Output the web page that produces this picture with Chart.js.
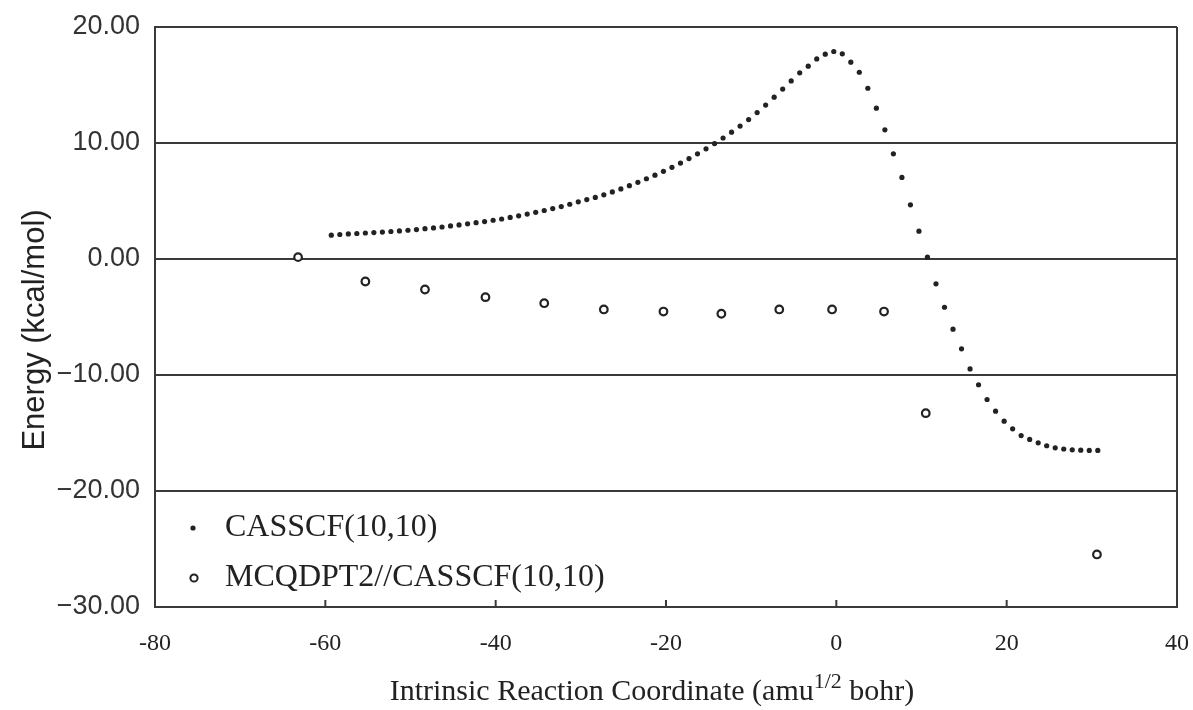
<!DOCTYPE html>
<html>
<head>
<meta charset="utf-8">
<script src="https://cdn.jsdelivr.net/npm/chart.js@4.4.1/dist/chart.umd.min.js"></script>
<style>
  body { margin: 0; background: #fff; }
</style>
</head>
<body>
<canvas id="grafico" width="1193" height="710"></canvas>
<script>
// CASSCF(10,10) IRC profile, one point per step along the path
const casscfX = [
  -59.3, -58.3, -57.3, -56.3, -55.3, -54.3, -53.3, -52.3, -51.3, -50.3,
  -49.3, -48.3, -47.3, -46.3, -45.3, -44.3, -43.3, -42.3, -41.3, -40.3,
  -39.3, -38.3, -37.3, -36.3, -35.3, -34.3, -33.3, -32.3, -31.3, -30.3,
  -29.3, -28.3, -27.3, -26.3, -25.3, -24.3, -23.3, -22.3, -21.3, -20.3,
  -19.3, -18.3, -17.3, -16.3, -15.3, -14.3, -13.3, -12.3, -11.3, -10.3,
  -9.3, -8.3, -7.3, -6.3, -5.3, -4.3, -3.3, -2.3, -1.3, -0.3,
  0.7, 1.7, 2.7, 3.7, 4.7, 5.7, 6.7, 7.7, 8.7, 9.7,
  10.7, 11.7, 12.7, 13.7, 14.7, 15.7, 16.7, 17.7, 18.7, 19.7,
  20.7, 21.7, 22.7, 23.7, 24.7, 25.7, 26.7, 27.7, 28.7, 29.7,
  30.7
];
const casscfY = [
  2.05, 2.11, 2.16, 2.20, 2.24, 2.28, 2.32, 2.37, 2.42, 2.48,
  2.54, 2.61, 2.68, 2.76, 2.85, 2.94, 3.03, 3.13, 3.23, 3.34,
  3.45, 3.58, 3.72, 3.87, 4.02, 4.18, 4.35, 4.52, 4.72, 4.93,
  5.12, 5.31, 5.53, 5.78, 6.04, 6.32, 6.61, 6.92, 7.23, 7.56,
  7.90, 8.27, 8.66, 9.07, 9.50, 9.95, 10.43, 10.93, 11.46, 12.02,
  12.62, 13.27, 13.95, 14.65, 15.35, 16.05, 16.62, 17.25, 17.66, 17.89,
  17.69, 16.97, 16.10, 14.72, 13.00, 11.14, 9.07, 7.03, 4.67, 2.40,
  0.16, -2.14, -4.16, -6.05, -7.74, -9.48, -10.84, -12.11, -13.12, -13.98,
  -14.64, -15.22, -15.55, -15.85, -16.10, -16.28, -16.38, -16.45, -16.48, -16.50,
  -16.50
];

// MCQDPT2 single points on CASSCF geometries
const mcqdptX = [-63.2, -55.3, -48.3, -41.2, -34.3, -27.3, -20.3, -13.5, -6.7, -0.5, 5.6, 10.5, 30.6];
const mcqdptY = [0.16, -1.94, -2.63, -3.29, -3.81, -4.35, -4.53, -4.72, -4.35, -4.35, -4.53, -13.29, -25.47];

const xTicks = [-80, -60, -40, -20, 0, 20, 40];
const yTicks = [-30, -20, -10, 0, 10, 20];
const seriesNames = ['CASSCF(10,10)', 'MCQDPT2//CASSCF(10,10)'];
const yTitle = 'Energy (kcal/mol)';
const xTitle = ['Intrinsic Reaction Coordinate (amu', '1/2', ' bohr)'];

const ink = '#222';
const lineInk = '#3a3a3a';

const toPoints = (xs, ys) => xs.map((x, i) => ({ x: x, y: ys[i] }));

const extras = {
  id: 'extras',
  afterDraw(chart) {
    const ctx = chart.ctx;
    const xs = chart.scales.x;
    const area = chart.chartArea;
    ctx.save();

    // small tick marks pointing up from the x axis
    ctx.strokeStyle = lineInk;
    ctx.lineWidth = 2;
    xTicks.forEach(v => {
      const px = xs.getPixelForValue(v);
      ctx.beginPath();
      ctx.moveTo(px, area.bottom);
      ctx.lineTo(px, area.bottom - 7);
      ctx.stroke();
    });

    // legend in the lower left corner of the plot
    const lx = area.left + 38;
    const rows = [area.bottom - 79, area.bottom - 29];
    ctx.fillStyle = ink;
    ctx.beginPath();
    ctx.arc(lx, rows[0], 2.6, 0, Math.PI * 2);
    ctx.fill();
    ctx.strokeStyle = ink;
    ctx.lineWidth = 2;
    ctx.beginPath();
    ctx.arc(lx + 1, rows[1], 3.6, 0, Math.PI * 2);
    ctx.stroke();
    ctx.font = '32px "Liberation Serif"';
    ctx.textBaseline = 'middle';
    ctx.textAlign = 'left';
    seriesNames.forEach((n, i) => ctx.fillText(n, lx + 32, rows[i]));

    // y axis title
    ctx.save();
    ctx.translate(35, 330);
    ctx.rotate(-Math.PI / 2);
    ctx.font = '31px "Liberation Sans"';
    ctx.textAlign = 'center';
    ctx.textBaseline = 'middle';
    ctx.fillText(yTitle, 0, 0);
    ctx.restore();

    // x axis title with the superscript
    const big = '30px "Liberation Serif"';
    const small = '22px "Liberation Serif"';
    ctx.textAlign = 'left';
    ctx.textBaseline = 'alphabetic';
    ctx.font = big;
    const w1 = ctx.measureText(xTitle[0]).width;
    const w3 = ctx.measureText(xTitle[2]).width;
    ctx.font = small;
    const w2 = ctx.measureText(xTitle[1]).width;
    let tx = 652 - (w1 + w2 + w3) / 2;
    const ty = 700;
    ctx.font = big;
    ctx.fillText(xTitle[0], tx, ty);
    tx += w1;
    ctx.font = small;
    ctx.fillText(xTitle[1], tx, ty - 12);
    tx += w2;
    ctx.font = big;
    ctx.fillText(xTitle[2], tx, ty);

    ctx.restore();
  }
};

const ctx = document.getElementById('grafico');
const myChart = new Chart(ctx, {
  type: 'scatter',
  data: {
    datasets: [
      {
        label: seriesNames[0],
        data: toPoints(casscfX, casscfY),
        pointRadius: 2.6,
        pointBackgroundColor: ink,
        pointBorderWidth: 0,
        showLine: false
      },
      {
        label: seriesNames[1],
        data: toPoints(mcqdptX, mcqdptY),
        pointRadius: 3.8,
        pointBackgroundColor: '#fff',
        pointBorderColor: ink,
        pointBorderWidth: 2.2,
        showLine: false
      }
    ]
  },
  options: {
    responsive: false,
    animation: false,
    clip: false,
    layout: { padding: { left: 0, right: 16, top: 27, bottom: 0 } },
    plugins: {
      legend: { display: false },
      tooltip: { enabled: false }
    },
    scales: {
      x: {
        type: 'linear',
        min: -80,
        max: 40,
        afterBuildTicks: s => { s.ticks = xTicks.map(v => ({ value: v })); },
        afterFit: s => { s.height = 103; s.paddingLeft = 0; s.paddingRight = 0; },
        border: { display: true, color: lineInk, width: 2 },
        grid: {
          drawTicks: false,
          color: c => (c.tick && c.tick.value === 40) ? lineInk : 'rgba(0,0,0,0)',
          lineWidth: 2
        },
        ticks: {
          padding: 22,
          color: ink,
          font: { family: '"Liberation Serif"', size: 24 },
          callback: v => String(v)
        }
      },
      y: {
        type: 'linear',
        min: -30,
        max: 20,
        afterBuildTicks: s => { s.ticks = yTicks.map(v => ({ value: v })); },
        afterFit: s => { s.width = 155; s.paddingTop = 0; s.paddingBottom = 0; },
        border: { display: true, color: lineInk, width: 2 },
        grid: {
          drawTicks: false,
          color: lineInk,
          lineWidth: 2
        },
        ticks: {
          padding: 15,
          color: '#333',
          font: { family: '"Liberation Sans"', size: 27 },
          callback: v => v.toFixed(2).replace('-', '\u2212')
        }
      }
    }
  },
  plugins: [extras]
});
</script>
</body>
</html>
